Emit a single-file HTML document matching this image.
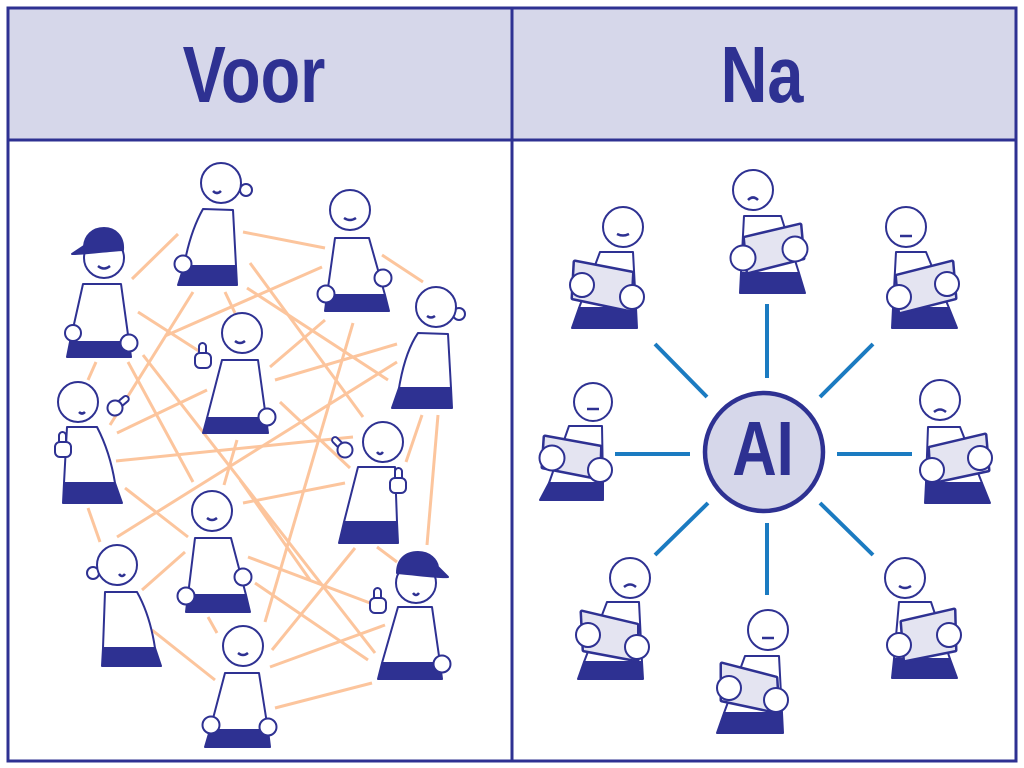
<!DOCTYPE html>
<html><head><meta charset="utf-8"><style>
html,body{margin:0;padding:0;background:#fff;}
svg{display:block;}
</style></head><body>
<svg width="1024" height="768" viewBox="0 0 1024 768" xmlns="http://www.w3.org/2000/svg">
<rect x="0" y="0" width="1024" height="768" fill="#fff"/>
<rect x="8" y="8" width="1008" height="132" fill="#d6d7ea"/>
<g stroke="#2e3192" stroke-width="3" fill="none">
<rect x="8" y="8" width="1008" height="753"/>
<line x1="8" y1="140" x2="1016" y2="140"/>
<line x1="512" y1="8" x2="512" y2="761"/>
</g>
<g font-family="'Liberation Sans', sans-serif" font-weight="bold" fill="#2e3192" text-anchor="middle">
<text transform="translate(254,102) scale(0.81,1)" font-size="80">Voor</text>
<text transform="translate(762,102) scale(0.81,1)" font-size="80">Na</text>
</g>

<!-- orange lines -->
<g stroke="#fcc59d" stroke-width="3" fill="none">
<line x1="132" y1="279" x2="178" y2="234"/>
<line x1="243" y1="232" x2="325" y2="248"/>
<line x1="382" y1="255" x2="423" y2="282"/>
<line x1="250" y1="263" x2="363" y2="417"/>
<line x1="247" y1="288" x2="388" y2="380"/>
<line x1="322" y1="267" x2="165" y2="336"/>
<line x1="193" y1="292" x2="110" y2="425"/>
<line x1="138" y1="312" x2="205" y2="355"/>
<line x1="225" y1="292" x2="235" y2="313"/>
<line x1="96" y1="362" x2="88" y2="380"/>
<line x1="128" y1="362" x2="193" y2="482"/>
<line x1="143" y1="355" x2="375" y2="653"/>
<line x1="325" y1="320" x2="270" y2="367"/>
<line x1="397" y1="344" x2="275" y2="380"/>
<line x1="397" y1="362" x2="117" y2="537"/>
<line x1="353" y1="323" x2="265" y2="622"/>
<line x1="116" y1="461" x2="353" y2="437"/>
<line x1="243" y1="503" x2="345" y2="483"/>
<line x1="280" y1="402" x2="350" y2="468"/>
<line x1="117" y1="433" x2="207" y2="390"/>
<line x1="237" y1="440" x2="224" y2="485"/>
<line x1="125" y1="488" x2="188" y2="537"/>
<line x1="88" y1="508" x2="100" y2="542"/>
<line x1="142" y1="590" x2="185" y2="552"/>
<line x1="152" y1="630" x2="215" y2="680"/>
<line x1="208" y1="617" x2="217" y2="633"/>
<line x1="248" y1="557" x2="370" y2="603"/>
<line x1="255" y1="583" x2="368" y2="660"/>
<line x1="272" y1="650" x2="355" y2="548"/>
<line x1="270" y1="667" x2="385" y2="625"/>
<line x1="275" y1="708" x2="372" y2="683"/>
<line x1="422" y1="415" x2="406" y2="462"/>
<line x1="438" y1="415" x2="427" y2="545"/>
<line x1="377" y1="547" x2="397" y2="562"/>
<line x1="240" y1="480" x2="310" y2="580"/>
</g>

<!-- LEFT FIGURES -->
<g stroke="#2e3192" stroke-width="2" stroke-linejoin="round">
<!-- L1 cap -->
<polygon points="83,284 121,284 129,342 70,342" fill="#fff"/>
<polygon points="70,342 129,342 131,357 67,357" fill="#2e3192"/>
<circle cx="104" cy="258" r="20" fill="#fff"/>
<path d="M123,250 C124,236 115,228 104,228 C92,228 85,236 84,246 L72,254 C85,254 105,251 123,250 Z" fill="#2e3192"/>
<path d="M98,266 Q104,271 110,266" fill="none" stroke-width="2.5"/>
<circle cx="73" cy="333" r="8" fill="#fff"/>
<circle cx="129" cy="343" r="8.5" fill="#fff"/>

<!-- L2 bun -->
<path d="M203,209 L233,210 L236,266 L184,266 Q190,232 203,209 Z" fill="#fff"/>
<polygon points="184,266 236,266 237,285 178,285" fill="#2e3192"/>
<circle cx="246" cy="190" r="6" fill="#fff"/>
<circle cx="221" cy="183" r="20" fill="#fff"/>
<path d="M213,191 Q217,195 221,191" fill="none" stroke-width="2.5"/>
<circle cx="183" cy="264" r="8.5" fill="#fff"/>

<!-- L3 -->
<polygon points="335,238 369,238 385,295 327,295" fill="#fff"/>
<polygon points="327,295 385,295 389,311 325,311" fill="#2e3192"/>
<circle cx="350" cy="210" r="20" fill="#fff"/>
<path d="M344,218 Q350,222 356,218" fill="none" stroke-width="2.5"/>
<circle cx="326" cy="294" r="8.5" fill="#fff"/>
<circle cx="383" cy="278" r="8.5" fill="#fff"/>

<!-- L4 bun -->
<path d="M418,333 L448,334 L451,388 L399,388 Q405,352 418,333 Z" fill="#fff"/>
<polygon points="399,388 451,388 452,408 392,408" fill="#2e3192"/>
<circle cx="459" cy="314" r="6" fill="#fff"/>
<circle cx="436" cy="307" r="20" fill="#fff"/>
<path d="M427,316 Q431,319 435,316" fill="none" stroke-width="2.5"/>

<!-- L5 -->
<polygon points="222,360 258,360 266,418 207,418" fill="#fff"/>
<polygon points="207,418 266,418 268,433 203,433" fill="#2e3192"/>
<circle cx="242" cy="333" r="20" fill="#fff"/>
<path d="M235,341 Q240,345 245,341" fill="none" stroke-width="2.5"/>
<circle cx="267" cy="417" r="8.5" fill="#fff"/>

<!-- L6 -->
<path d="M67,427 L97,427 Q110,452 115,483 L64,483 Z" fill="#fff"/>
<polygon points="64,483 115,483 122,503 63,503" fill="#2e3192"/>
<circle cx="78" cy="402" r="20" fill="#fff"/>
<path d="M79,412 Q82,415 85,412" fill="none" stroke-width="2.5"/>

<!-- L7 -->
<polygon points="358,467 395,467 397,522 344,522" fill="#fff"/>
<polygon points="344,522 397,522 398,543 339,543" fill="#2e3192"/>
<circle cx="383" cy="442" r="20" fill="#fff"/>
<path d="M377,452 Q380,456 383,452" fill="none" stroke-width="2.5"/>

<!-- L8 -->
<polygon points="195,538 231,538 246,595 188,595" fill="#fff"/>
<polygon points="188,595 246,595 250,612 186,612" fill="#2e3192"/>
<circle cx="212" cy="511" r="20" fill="#fff"/>
<path d="M207,518 Q212,522 217,518" fill="none" stroke-width="2.5"/>
<circle cx="186" cy="596" r="8.5" fill="#fff"/>
<circle cx="243" cy="577" r="8.5" fill="#fff"/>

<!-- L9 bun -->
<path d="M105,592 L137,592 Q150,615 155,648 L103,648 Z" fill="#fff"/>
<polygon points="103,648 155,648 161,666 102,666" fill="#2e3192"/>
<circle cx="93" cy="573" r="6" fill="#fff"/>
<circle cx="117" cy="565" r="20" fill="#fff"/>
<path d="M119,574 Q122,578 125,574" fill="none" stroke-width="2.5"/>

<!-- L10 -->
<polygon points="225,673 259,673 268,730 210,730" fill="#fff"/>
<polygon points="210,730 268,730 270,747 205,747" fill="#2e3192"/>
<circle cx="243" cy="646" r="20" fill="#fff"/>
<path d="M238,653 Q243,657 248,653" fill="none" stroke-width="2.5"/>
<circle cx="211" cy="725" r="8.5" fill="#fff"/>
<circle cx="268" cy="727" r="8.5" fill="#fff"/>

<!-- L11 cap -->
<polygon points="398,607 432,607 440,663 382,663" fill="#fff"/>
<polygon points="382,663 440,663 442,679 378,679" fill="#2e3192"/>
<circle cx="416" cy="583" r="20" fill="#fff"/>
<path d="M397,573 C397,560 405,552 418,552 C430,552 437,560 438,567 L448,577 C440,578 420,575 397,573 Z" fill="#2e3192"/>
<path d="M413,593 Q416,597 419,593" fill="none" stroke-width="2.5"/>
<circle cx="442" cy="664" r="8.5" fill="#fff"/>

<!-- thumbs-up hands -->
<g fill="#fff">
<g transform="translate(203,357)"><rect x="-4" y="-14" width="7" height="14" rx="3.5"/><rect x="-8" y="-4" width="16" height="15" rx="5"/></g>
<g transform="translate(63,446)"><rect x="-4" y="-14" width="7" height="14" rx="3.5"/><rect x="-8" y="-4" width="16" height="15" rx="5"/></g>
<g transform="translate(398,482)"><rect x="-3" y="-14" width="7" height="14" rx="3.5"/><rect x="-8" y="-4" width="16" height="15" rx="5"/></g>
<g transform="translate(378,602)"><rect x="-4" y="-14" width="7" height="14" rx="3.5"/><rect x="-8" y="-4" width="16" height="15" rx="5"/></g>
<!-- pointing hands -->
<g transform="translate(115,408) rotate(-40)"><rect x="0" y="-3" width="17" height="6" rx="3"/><circle r="7.5"/></g>
<g transform="translate(345,450) rotate(-135)"><rect x="0" y="-3" width="17" height="6" rx="3"/><circle r="7.5"/></g>
</g>
</g>

<!-- RIGHT: spokes -->
<g stroke="#1b7bc1" stroke-width="4">
<line x1="767" y1="304" x2="767" y2="378"/>
<line x1="767" y1="523" x2="767" y2="595"/>
<line x1="615" y1="454" x2="690" y2="454"/>
<line x1="837" y1="454" x2="912" y2="454"/>
<line x1="655" y1="344" x2="707" y2="397"/>
<line x1="873" y1="344" x2="820" y2="397"/>
<line x1="655" y1="555" x2="708" y2="503"/>
<line x1="873" y1="555" x2="820" y2="503"/>
</g>
<circle cx="764" cy="452" r="59" fill="#d6d7ea" stroke="#2e3192" stroke-width="4.5"/>
<text transform="translate(763,475) scale(0.8,1)" font-family="'Liberation Sans', sans-serif" font-weight="bold" font-size="77" fill="#2e3192" text-anchor="middle">AI</text>

<!-- RIGHT FIGURES -->
<g stroke="#2e3192" stroke-width="2" stroke-linejoin="round">
<!-- R1 -->
<polygon points="600,252 633,252 636,308 579,308" fill="#fff"/>
<polygon points="579,308 636,308 637,328 572,328" fill="#2e3192"/>
<circle cx="623" cy="227" r="20" fill="#fff"/>
<path d="M617,234 Q623,237 629,234" fill="none" stroke-width="2.5"/>
<polygon points="575,262 632,273 630,310 573,298" fill="#e4e4f1" stroke-width="5" stroke="#2e3192"/>
<polygon points="575,262 632,273 630,310 573,298" fill="#e4e4f1" stroke="none"/>
<circle cx="582" cy="285" r="12" fill="#fff"/>
<circle cx="632" cy="297" r="12" fill="#fff"/>

<!-- R2 -->
<polygon points="744,216 781,216 799,273 741,273" fill="#fff"/>
<polygon points="741,273 799,273 805,293 740,293" fill="#2e3192"/>
<circle cx="753" cy="190" r="20" fill="#fff"/>
<path d="M748,200 Q753,195 758,200" fill="none" stroke-width="2.5"/>
<polygon points="745,238 800,225 803,258 748,272" fill="#e4e4f1" stroke-width="5"/>
<polygon points="745,238 800,225 803,258 748,272" fill="#e4e4f1" stroke="none"/>
<circle cx="743" cy="258" r="12.5" fill="#fff"/>
<circle cx="795" cy="249" r="12.5" fill="#fff"/>

<!-- R3 -->
<polygon points="896,252 926,252 949,308 893,308" fill="#fff"/>
<polygon points="893,308 949,308 957,328 892,328" fill="#2e3192"/>
<circle cx="906" cy="227" r="20" fill="#fff"/>
<path d="M900,236 L912,236" fill="none" stroke-width="2.5"/>
<polygon points="897,276 952,262 955,298 900,312" fill="#e4e4f1" stroke-width="5"/>
<polygon points="897,276 952,262 955,298 900,312" fill="#e4e4f1" stroke="none"/>
<circle cx="899" cy="297" r="12" fill="#fff"/>
<circle cx="947" cy="284" r="12" fill="#fff"/>

<!-- R4 -->
<polygon points="569,426 602,426 603,483 549,483" fill="#fff"/>
<polygon points="549,483 603,483 603,500 540,500" fill="#2e3192"/>
<circle cx="593" cy="402" r="19" fill="#fff"/>
<path d="M587,409 L599,409" fill="none" stroke-width="2.5"/>
<polygon points="545,437 600,447 599,478 543,467" fill="#e4e4f1" stroke-width="5"/>
<polygon points="545,437 600,447 599,478 543,467" fill="#e4e4f1" stroke="none"/>
<circle cx="552" cy="458" r="12.5" fill="#fff"/>
<circle cx="600" cy="470" r="12" fill="#fff"/>

<!-- R5 -->
<polygon points="928,427 960,427 982,483 926,483" fill="#fff"/>
<polygon points="926,483 982,483 990,503 925,503" fill="#2e3192"/>
<circle cx="940" cy="400" r="20" fill="#fff"/>
<path d="M934,412 Q940,407 946,412" fill="none" stroke-width="2.5"/>
<polygon points="930,448 985,435 988,470 932,482" fill="#e4e4f1" stroke-width="5"/>
<polygon points="930,448 985,435 988,470 932,482" fill="#e4e4f1" stroke="none"/>
<circle cx="932" cy="470" r="12" fill="#fff"/>
<circle cx="980" cy="458" r="12" fill="#fff"/>

<!-- R6 -->
<polygon points="607,602 639,602 642,662 584,662" fill="#fff"/>
<polygon points="584,662 642,662 643,679 578,679" fill="#2e3192"/>
<circle cx="630" cy="578" r="20" fill="#fff"/>
<path d="M624,587 Q630,582 636,587" fill="none" stroke-width="2.5"/>
<polygon points="582,612 637,625 637,660 584,650" fill="#e4e4f1" stroke-width="5"/>
<polygon points="582,612 637,625 637,660 584,650" fill="#e4e4f1" stroke="none"/>
<circle cx="588" cy="635" r="12" fill="#fff"/>
<circle cx="637" cy="647" r="12" fill="#fff"/>

<!-- R7 -->
<polygon points="745,656 779,656 782,713 724,713" fill="#fff"/>
<polygon points="724,713 782,713 783,733 717,733" fill="#2e3192"/>
<circle cx="768" cy="630" r="20" fill="#fff"/>
<path d="M762,638 L774,638" fill="none" stroke-width="2.5"/>
<polygon points="722,664 776,678 778,712 722,700" fill="#e4e4f1" stroke-width="5"/>
<polygon points="722,664 776,678 778,712 722,700" fill="#e4e4f1" stroke="none"/>
<circle cx="729" cy="688" r="12" fill="#fff"/>
<circle cx="776" cy="700" r="12" fill="#fff"/>

<!-- R8 -->
<polygon points="899,602 931,602 950,659 894,659" fill="#fff"/>
<polygon points="894,659 950,659 957,678 892,678" fill="#2e3192"/>
<circle cx="905" cy="578" r="20" fill="#fff"/>
<path d="M899,586 Q905,590 911,586" fill="none" stroke-width="2.5"/>
<polygon points="902,622 954,610 955,650 905,660" fill="#e4e4f1" stroke-width="5"/>
<polygon points="902,622 954,610 955,650 905,660" fill="#e4e4f1" stroke="none"/>
<circle cx="899" cy="645" r="12" fill="#fff"/>
<circle cx="949" cy="635" r="12" fill="#fff"/>
</g>
</svg>
</body></html>
